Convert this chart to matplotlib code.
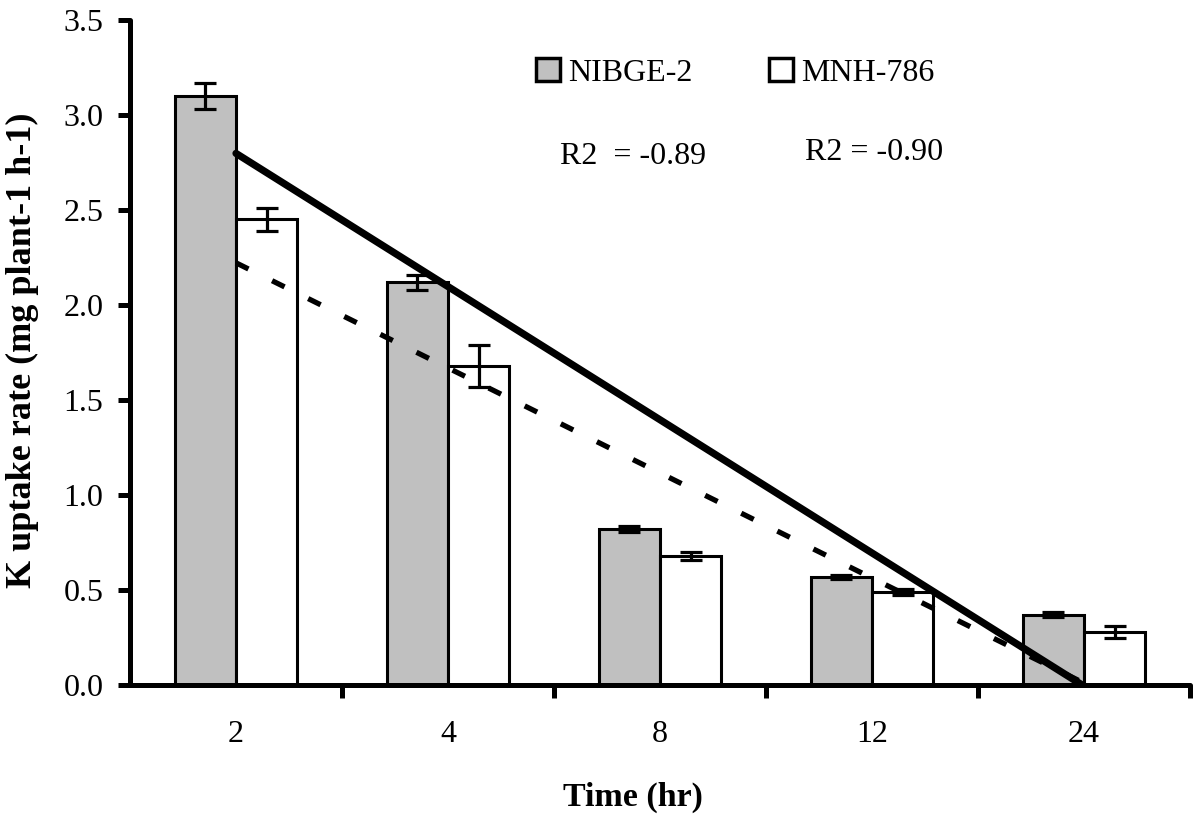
import numpy as np
import matplotlib
matplotlib.use("Agg")
import matplotlib.pyplot as plt
from matplotlib.patches import Patch

plt.rcParams['font.family'] = ['Liberation Serif', 'DejaVu Serif']
plt.rcParams['lines.scale_dashes'] = False

categories = ["2", "4", "8", "12", "24"]
nibge = [3.10, 2.12, 0.82, 0.57, 0.37]
nibge_err = [0.07, 0.04, 0.015, 0.01, 0.012]
mnh = [2.45, 1.68, 0.68, 0.49, 0.28]
mnh_err = [0.06, 0.11, 0.02, 0.015, 0.03]
series_names = ["NIBGE-2", "MNH-786"]
r2_labels = ["R2  = -0.89", "R2 = -0.90"]

fig = plt.figure(figsize=(11.95, 8.16), dpi=100)
ax = fig.add_axes([130/1195, 1-685/816, 1060/1195, 665/816])

x = np.arange(len(categories))
w = 0.29
ekw = dict(elinewidth=2.3, capthick=2.3, capsize=8, ecolor='black')
ax.bar(x - w/2, nibge, w, color='#c0c0c0', edgecolor='black', linewidth=2.2,
       yerr=nibge_err, error_kw=ekw, zorder=2)
ax.bar(x + w/2, mnh, w, color='white', edgecolor='black', linewidth=2.2,
       yerr=mnh_err, error_kw=ekw, zorder=2)

# Linear trendlines (Excel style, x = 1..n)
xs = np.arange(1, len(categories) + 1)
for vals, style in [(nibge, dict(linestyle='-', linewidth=5.2)),
                    (mnh, dict(linestyle=(0, (10, 19)), linewidth=3.8, dash_capstyle='butt'))]:
    m, b = np.polyfit(xs, vals, 1)
    xx = np.array([xs[0], xs[-1]], dtype=float)
    yy = m * xx + b
    if yy[-1] < 0:
        xx[-1] = -b / m
        yy[-1] = 0.0
    ax.plot(xx - 1, yy, color='black', solid_capstyle='round', zorder=3, **style)

ax.set_xlim(-0.5, len(categories) - 0.5)
ax.set_ylim(0, 3.5)
ax.set_yticks(np.arange(0, 3.51, 0.5))
ax.set_yticklabels([f"{v:.1f}" for v in np.arange(0, 3.51, 0.5)])
ax.set_xticks(np.arange(0.5, len(categories), 1.0))
ax.set_xticklabels([])
ax.set_xticks(x, minor=True)
ax.set_xticklabels(categories, minor=True)

for s in ['top', 'right']:
    ax.spines[s].set_visible(False)
for s in ['left', 'bottom']:
    ax.spines[s].set_linewidth(3.6)
    ax.spines[s].set_capstyle('round')

ax.tick_params(axis='both', which='major', direction='out', length=9, width=3.6,
               labelsize=23, colors='black')
ax.tick_params(axis='y', pad=10)
ax.tick_params(axis='x', which='minor', length=0, labelsize=23, pad=25)

ax.set_xlabel("Time (hr)", fontsize=24.5, fontweight='bold')
ax.xaxis.set_label_coords(0.474, -0.145)
ax.set_ylabel("K uptake rate (mg plant-1 h-1)", fontsize=26, fontweight='bold')
ax.yaxis.set_label_coords(-0.086, 0.504)

handles = [Patch(facecolor='#c0c0c0', edgecolor='black', linewidth=2.5),
           Patch(facecolor='white', edgecolor='black', linewidth=2.5)]
leg = ax.legend(handles, series_names, ncol=2, frameon=False, fontsize=23,
                loc='center left', bbox_to_anchor=((536-130)/1060, (685-73)/665),
                handlelength=0.75, handleheight=0.75, handletextpad=0.25,
                columnspacing=2.4, borderpad=0, borderaxespad=0)

ax.text((560-130)/1060, (685-157)/665, r2_labels[0], transform=ax.transAxes,
        fontsize=23, va='center', ha='left')
ax.text((805-130)/1060, (685-153)/665, r2_labels[1], transform=ax.transAxes,
        fontsize=23, va='center', ha='left')

fig.savefig("out.png", dpi=100)
